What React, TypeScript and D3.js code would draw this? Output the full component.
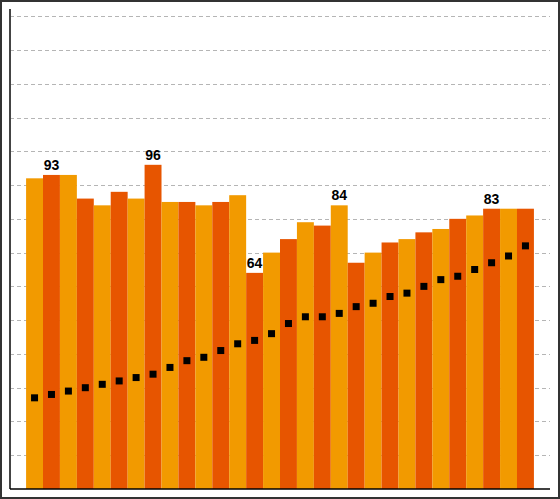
import React, { useEffect, useRef } from 'react';
import * as d3 from 'd3';

const categories = d3.range(1, 31).map((i) => `P${i}`);
const barValues = [
  92, 93, 93, 86, 84, 88, 86, 96, 85, 85, 84, 85, 87, 64, 70,
  74, 79, 78, 84, 67, 70, 73, 74, 76, 77, 80, 81, 83, 83, 83,
];
const markerValues = [
  27, 28, 29, 30, 31, 32, 33, 34, 36, 38, 39, 41, 43, 44, 46,
  49, 51, 51, 52, 54, 55, 57, 58, 60, 62, 63, 65, 67, 69, 72,
];
const labelled = ['P2', 'P8', 'P14', 'P19', 'P28'];
const gridTicks = d3.range(10, 150, 10);

const W = 560;
const H = 499;
const LIGHT = '#f29a00';
const DARK = '#e75500';

const App: React.FC = () => {
  const svgRef = useRef<SVGSVGElement>(null);

  useEffect(() => {
    const { current: node } = svgRef;
    if (!node) {
      return;
    }
    const svg = d3.select(node);
    svg.selectAll('*').remove();

    const left = 10;
    const right = 550;
    const bottom = 489;

    const x = d3
      .scaleBand<string>()
      .domain(categories)
      .range([left, right])
      .paddingInner(0)
      .paddingOuter(0.95);
    const y = d3.scaleLinear().domain([0, 140]).range([bottom, bottom - 140 * 3.377]);

    // frame
    svg
      .append('rect')
      .attr('x', 1)
      .attr('y', 1)
      .attr('width', W - 2)
      .attr('height', H - 2)
      .attr('fill', '#fff')
      .attr('stroke', '#333')
      .attr('stroke-width', 2);

    // dashed grid
    svg
      .append('g')
      .selectAll('line')
      .data(gridTicks)
      .join('line')
      .attr('x1', left)
      .attr('x2', right)
      .attr('y1', (d) => Math.round(y(d)) + 0.5)
      .attr('y2', (d) => Math.round(y(d)) + 0.5)
      .attr('stroke', '#b5b5b5')
      .attr('stroke-dasharray', '4,3');

    // bars
    svg
      .append('g')
      .selectAll('rect')
      .data(barValues)
      .join('rect')
      .attr('x', (_, i) => x(categories[i])!)
      .attr('y', (d) => y(d))
      .attr('width', x.bandwidth())
      .attr('height', (d) => bottom - y(d))
      .attr('fill', (_, i) => (i % 2 === 0 ? LIGHT : DARK));

    // markers
    const s = 7;
    svg
      .append('g')
      .selectAll('rect')
      .data(markerValues)
      .join('rect')
      .attr('x', (_, i) => x(categories[i])! + x.bandwidth() / 2 - s / 2)
      .attr('y', (d) => y(d) - s / 2)
      .attr('width', s)
      .attr('height', s)
      .attr('fill', '#000');

    // value labels
    svg
      .append('g')
      .selectAll('text')
      .data(labelled)
      .join('text')
      .attr('x', (c) => x(c)! + x.bandwidth() / 2)
      .attr('y', (c) => y(barValues[categories.indexOf(c)]) - 5)
      .attr('text-anchor', 'middle')
      .attr('font-family', 'Liberation Sans, Arial, sans-serif')
      .attr('font-weight', 'bold')
      .attr('font-size', 14)
      .attr('fill', '#000')
      .text((c) => barValues[categories.indexOf(c)]);

    // axes lines
    svg
      .append('line')
      .attr('x1', left)
      .attr('x2', left)
      .attr('y1', 9)
      .attr('y2', bottom)
      .attr('stroke', '#444')
      .attr('stroke-width', 2);
    svg
      .append('line')
      .attr('x1', left)
      .attr('x2', right)
      .attr('y1', bottom)
      .attr('y2', bottom)
      .attr('stroke', '#000')
      .attr('stroke-width', 1.5);
  }, []);

  return (
    <svg
      ref={svgRef}
      width={W}
      height={H}
      style={{ position: 'absolute', left: 0, top: 0, display: 'block' }}
    />
  );
};

export default App;
